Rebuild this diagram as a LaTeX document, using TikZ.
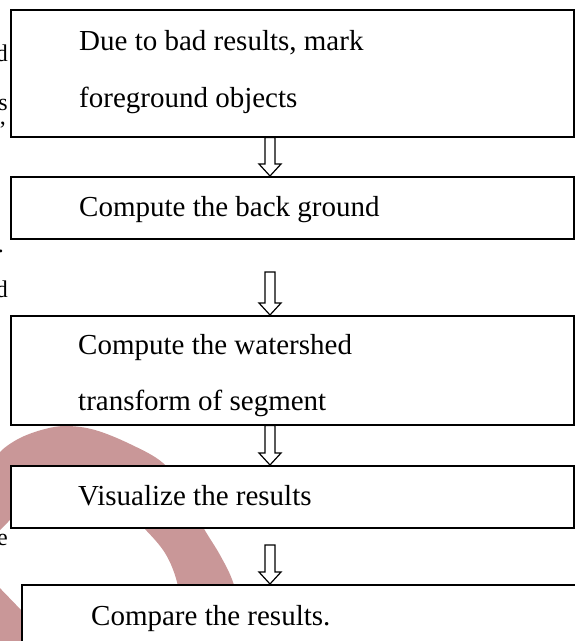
\documentclass[tikz,border=0pt]{standalone}
\usepackage{fontspec}
\setmainfont{Liberation Serif}
\usetikzlibrary{calc}
\definecolor{wm}{RGB}{201,151,152}
\tikzset{
  boxnode/.style={draw=black, line width=1.6pt, fill=white, rectangle, inner sep=0pt, anchor=north west},
  boxtext/.style={inner sep=0pt, anchor=base west, font=\fontsize{29}{29}\selectfont},
  fragtext/.style={inner sep=0pt, anchor=base east, font=\fontsize{24}{24}\selectfont},
  hollowarrow/.style={draw=black, line width=1.2pt, fill=white, line join=miter}
}
\newcommand{\blockarrow}[2]{%
  \draw[hollowarrow] let \p1=(#1), \p2=(#2) in
    (\x1-5pt,\y1) -- (\x1-5pt,\y2+12pt) -- (\x1-11pt,\y2+12pt) -- (\x1,\y2)
    -- (\x1+11pt,\y2+12pt) -- (\x1+5pt,\y2+12pt) -- (\x1+5pt,\y1) -- cycle;}
\begin{document}
\begin{tikzpicture}[x=1pt,y=-1pt]
\useasboundingbox (0,0) rectangle (575,641);
\clip (0,0) rectangle (575,641);
% watermark
\fill[wm] plot[smooth, tension=0.6] coordinates {(-8,468) (0,452) (20,438) (45,429) (67,426) (95,430) (130,444) (163,463) (185,492) (203,527) (220,555) (233,582) (243,620) (247,650)}
  -- (186,650) -- plot[smooth, tension=0.6] coordinates {(186,650) (180,610) (177,582) (165,553) (143,527) (118,503) (88,489) (55,490) (25,505) (8,522) (-5,535)} -- cycle;
\fill[wm] (-5,583) -- (23,612) -- (50,650) -- (-5,650) -- cycle;
% background text fragments
\node[fragtext] (f1) at (8,61) {d};
\node[fragtext] (f2) at (8,110) {s};
\node[fragtext] (f3) at (6,124) {,};
\node[fragtext] (f4) at (4,252) {.};
\node[fragtext] (f5) at (8,297) {d};
\node[fragtext] (f6) at (8,545) {e};
% boxes
\node[boxnode, minimum width=563pt, minimum height=127pt] (b1) at (10,9) {};
\node[boxnode, minimum width=563pt, minimum height=62pt] (b2) at (10,176) {};
\node[boxnode, minimum width=563pt, minimum height=109pt] (b3) at (10,315) {};
\node[boxnode, minimum width=563pt, minimum height=62pt] (b4) at (10,465) {};
\node[boxnode, minimum width=600pt, minimum height=100pt] (b5) at (21,584) {};
% texts
\node[boxtext] (t1a) at (79,50) {Due to bad results, mark};
\node[boxtext] (t1b) at (79,107) {foreground objects};
\node[boxtext] (t2) at (79,216) {Compute the back ground};
\node[boxtext] (t3a) at (78,354) {Compute the watershed};
\node[boxtext] (t3b) at (78,410) {transform of segment};
\node[boxtext] (t4) at (78,505) {Visualize the results};
\node[boxtext] (t5) at (91,625) {Compare the results.};
% arrows
\coordinate (ax) at (270,0);
\coordinate (a2top) at (270,272);
\coordinate (a4top) at (270,545);
\blockarrow{b1.south -| ax}{b2.north -| ax}
\blockarrow{a2top}{b3.north -| ax}
\blockarrow{b3.south -| ax}{b4.north -| ax}
\blockarrow{a4top}{b5.north -| ax}
\end{tikzpicture}
\end{document}
